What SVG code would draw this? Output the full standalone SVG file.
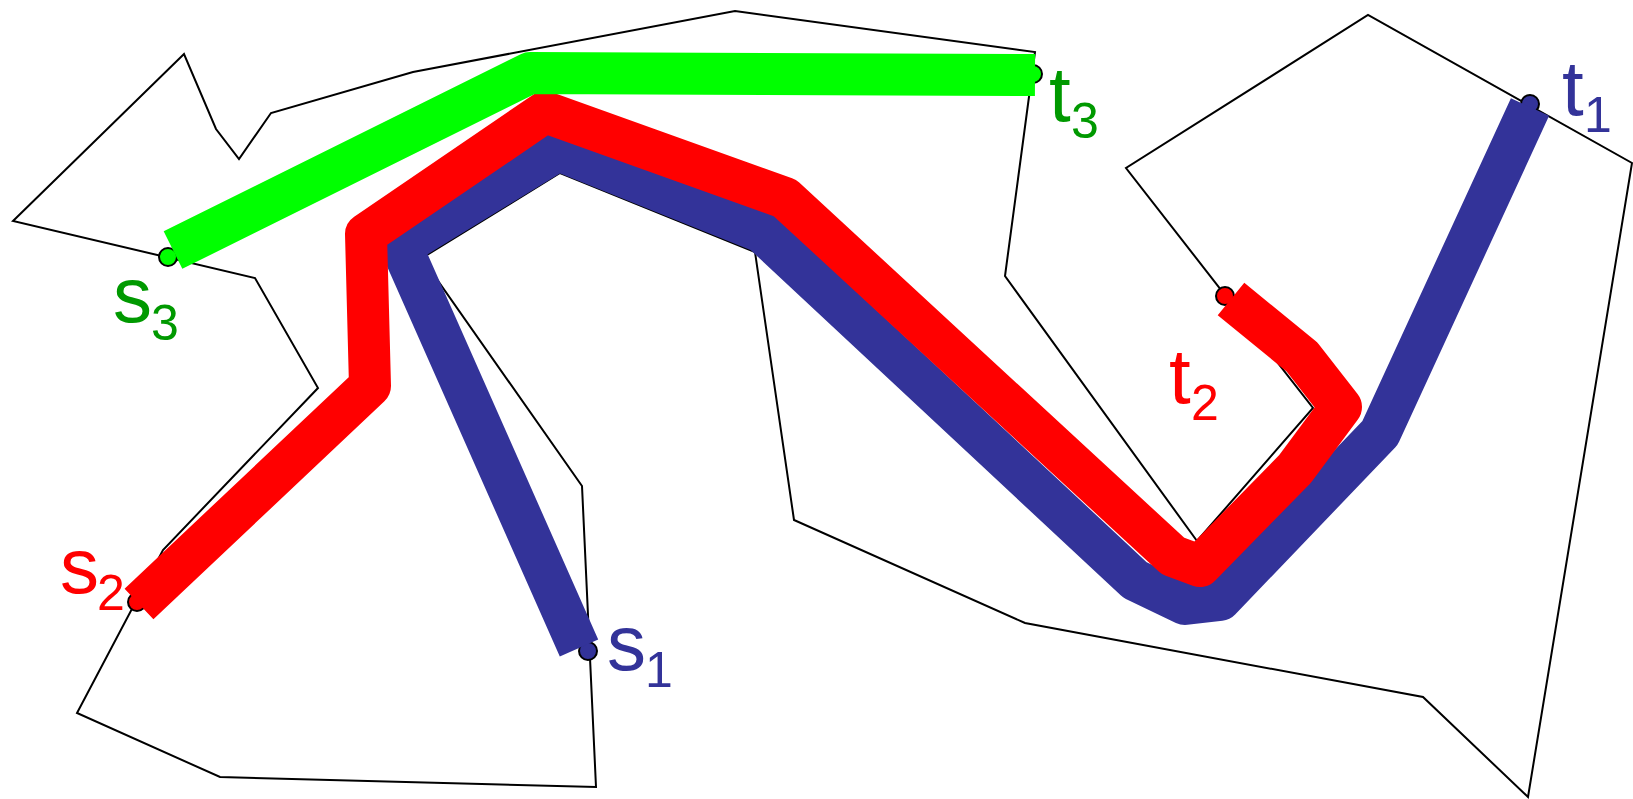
<svg xmlns="http://www.w3.org/2000/svg" width="1633" height="799" viewBox="0 0 1633 799">
<style>
.poly{fill:none;stroke:#000;stroke-width:2;stroke-linejoin:miter}
.path{fill:none;stroke-width:42;stroke-linejoin:round;stroke-linecap:butt}
.pt{stroke:#000;stroke-width:2}
.lbl{font-family:"Liberation Sans",Arial,sans-serif;font-size:78px}
.sub{font-size:50px}
.c1{fill:#333399}.c2{fill:#ff0000}.c3{fill:#009900}
</style>
<rect width="1633" height="799" fill="#fff"/>
<g id="domain">
<polygon class="poly" points="13,221 184,54 216,129 239,159 271,113 413,72 735,11 1035,52 1005,276 1197,541 1313,408 1126,168 1368,15 1632,163 1528,797 1423,697 1025,623 794,520 755,252 560,173 422,258 582,486 596,787 220,777 77,713 163,550 318,388 255,278"/>
</g>
<g id="s3"><circle class="pt" cx="168" cy="257" r="9" fill="#00ff00"/><text class="lbl c3" x="113" y="322">s<tspan class="sub" x="151" y="340">3</tspan></text></g>
<g id="t3"><circle class="pt" cx="1033" cy="74" r="9" fill="#00ff00"/><text class="lbl c3" x="1049" y="121">t<tspan class="sub" x="1071" y="138">3</tspan></text></g>
<g id="s2"><circle class="pt" cx="137" cy="602" r="9" fill="#ff0000"/><text class="lbl c2" x="60" y="593">s<tspan class="sub" x="97" y="610">2</tspan></text></g>
<g id="t2"><circle class="pt" cx="1225" cy="296" r="9" fill="#ff0000"/><text class="lbl c2" x="1169" y="403">t<tspan class="sub" x="1191" y="420">2</tspan></text></g>
<g id="s1"><circle class="pt" cx="588" cy="651" r="9" fill="#333399"/><text class="lbl c1" x="607" y="670">s<tspan class="sub" x="645" y="687">1</tspan></text></g>
<g id="t1"><circle class="pt" cx="1530" cy="104" r="9" fill="#333399"/><text class="lbl c1" x="1562" y="115">t<tspan class="sub" x="1584" y="132">1</tspan></text></g>
<g id="connectors">
<polyline class="path" stroke="#333399" points="579,648 401,246 558,150 762,232 1135,580 1185,604 1220,600 1380,433 1530,107"/>
<polyline class="path" stroke="#ff0000" points="139,604 370,386 366,234 545,112 785,198 1173,556 1200,566 1295,469 1341,407 1302,357 1231,299"/>
<polyline class="path" stroke="#00ff00" points="173,250 530,73 1035,75"/>
</g>
</svg>
